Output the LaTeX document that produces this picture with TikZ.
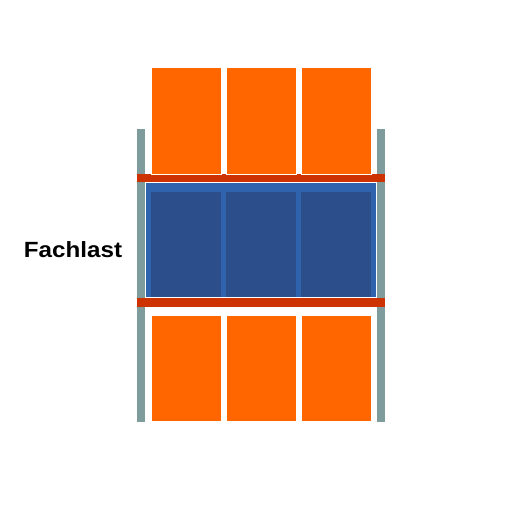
\documentclass[tikz,border=0pt]{standalone}
\usepackage{fontspec}
\setmainfont{Liberation Sans}
\usepackage{tikz}

\definecolor{boxorange}{HTML}{FF6600}
\definecolor{beamred}{HTML}{CC3300}
\definecolor{postgray}{HTML}{7F9C9C}
\definecolor{shelfblue}{HTML}{2F63AE}
\definecolor{loadblue}{HTML}{2C4F8B}

\begin{document}
\begin{tikzpicture}[x=1pt, y=-1pt,
  every node/.style={outer sep=0pt, inner sep=0pt},
  post/.style={fill=postgray, minimum width=8pt, minimum height=293pt},
  beam/.style={fill=beamred, minimum width=248pt},
  carton/.style={fill=boxorange, draw=white, line width=0.4pt, minimum width=70pt},
  load/.style={fill=loadblue, minimum width=70pt, minimum height=105pt}]
\useasboundingbox[fill=white] (0,0) rectangle (520,520);

% uprights
\node[post] (postL) at (141,275.5) {};
\node[post] (postR) at (381,275.5) {};

% shelf level with load
\node[fill=shelfblue, minimum width=230pt, minimum height=114pt] (shelf) at (261,240) {};
\node[load] (load1) at (186,244.5) {};
\node[load] (load2) at (261,244.5) {};
\node[load] (load3) at (336,244.5) {};

% beams
\node[beam, minimum height=8pt] (beamT) at (261,178) {};
\node[beam, minimum height=9pt] (beamB) at (261,302.5) {};

% cartons above
\node[carton, minimum height=107pt] (top1) at (186,120.5) {};
\node[carton, minimum height=107pt] (top2) at (261,120.5) {};
\node[carton, minimum height=107pt] (top3) at (336,120.5) {};

% cartons below
\node[carton, minimum height=106pt] (bot1) at (186,368) {};
\node[carton, minimum height=106pt] (bot2) at (261,368) {};
\node[carton, minimum height=106pt] (bot3) at (336,368) {};

\node[anchor=base, font=\fontsize{22}{26}\selectfont\bfseries] (label) at (73,257) {\scalebox{1.1}[1]{Fachlast}};
\end{tikzpicture}
\end{document}
